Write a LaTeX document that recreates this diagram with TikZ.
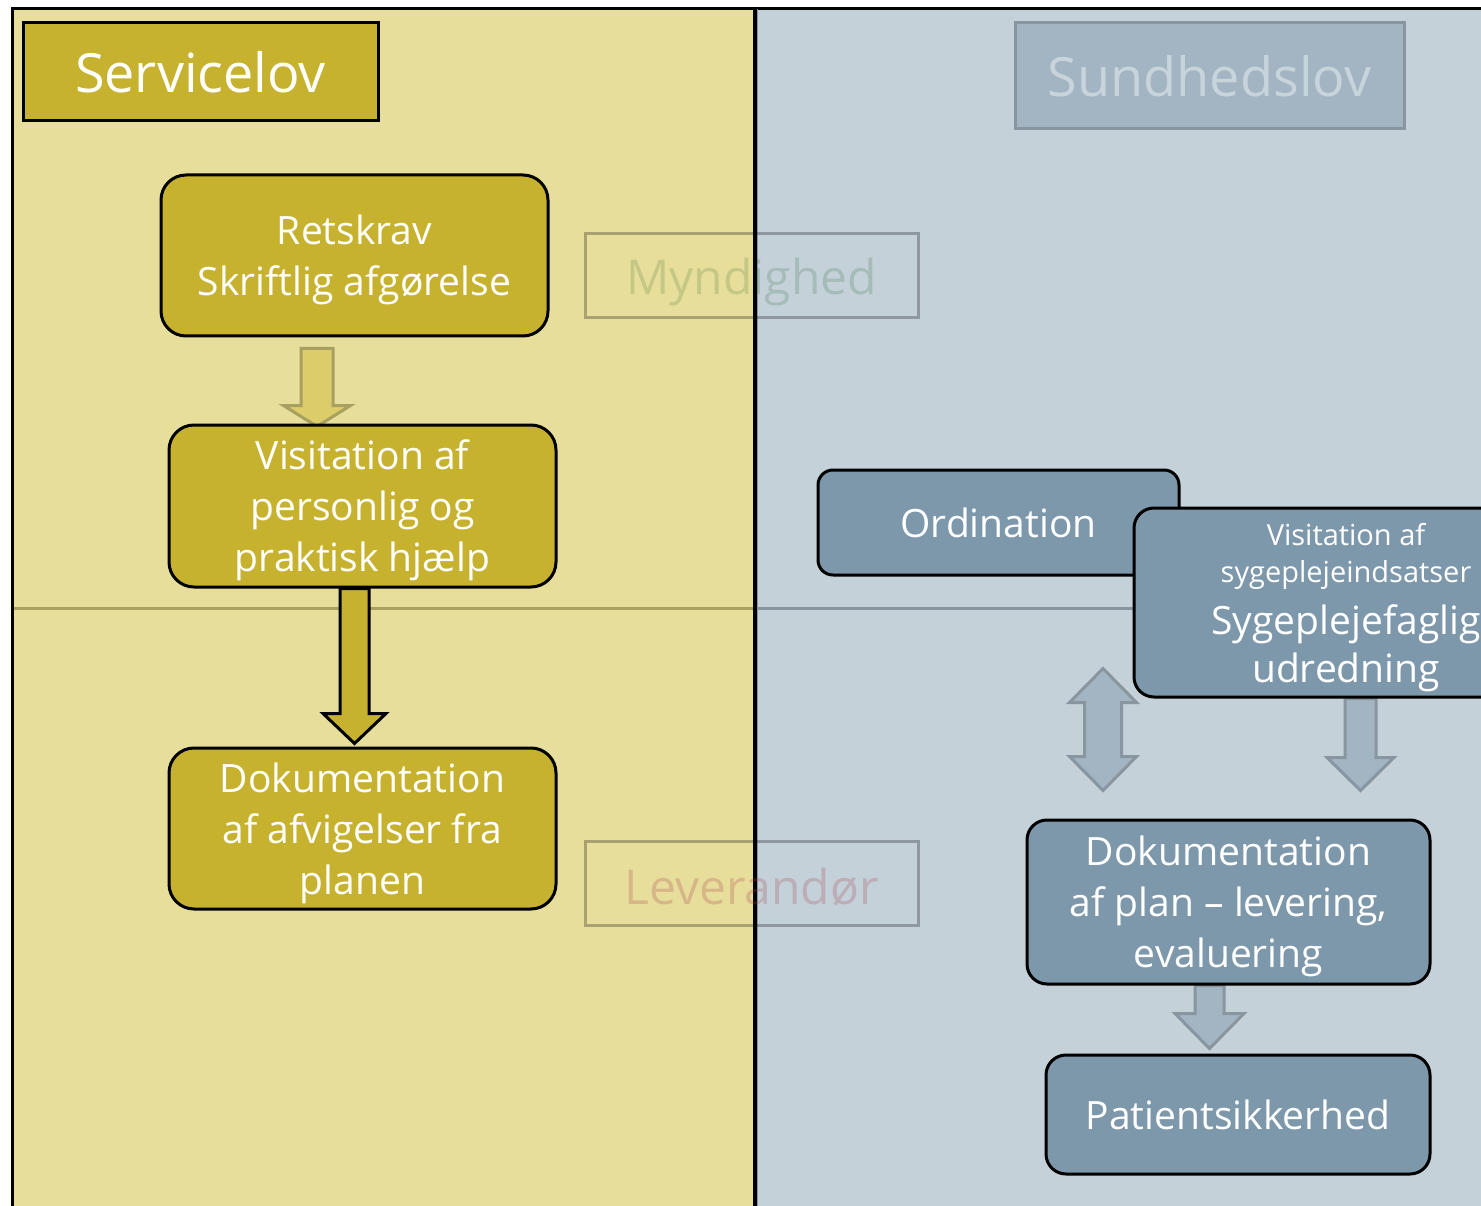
\documentclass[tikz,border=0pt]{standalone}
\usepackage{fontspec}
\setmainfont{Open Sans}
\usetikzlibrary{calc}

\pgfdeclarelayer{panels}
\pgfdeclarelayer{arrows}
\pgfsetlayers{panels,arrows,main}

\definecolor{servBg}{HTML}{E8DE9C}
\definecolor{sundBg}{HTML}{C4D1D9}
\definecolor{gold}{HTML}{C7B22F}
\definecolor{paleGold}{HTML}{DDCC6A}
\definecolor{goldLine}{HTML}{A8A060}
\definecolor{steel}{HTML}{7D97AB}
\definecolor{paleSteel}{HTML}{A3B5C2}
\definecolor{steelLine}{HTML}{8A969F}
\definecolor{sundText}{HTML}{C8D4DC}
\definecolor{myndText}{RGB}{0,69,0}
\definecolor{levText}{RGB}{168,70,80}

%% block arrow pointing down: style, from, to, shaft half, head half, head length
\newcommand\downArrow[6]{%
  \draw[#1] let \p1=(#2), \p2=(#3) in
    (\x1-#4pt,\y1) -- (\x1-#4pt,\y2+#6pt) -- (\x1-#5pt,\y2+#6pt) -- (\x1,\y2)
    -- (\x1+#5pt,\y2+#6pt) -- (\x1+#4pt,\y2+#6pt) -- (\x1+#4pt,\y1) -- cycle;}
%% block arrow pointing both ways
\newcommand\bothArrow[6]{%
  \draw[#1] let \p1=(#2), \p2=(#3) in
    (\x1,\y1) -- (\x1+#5pt,\y1-#6pt) -- (\x1+#4pt,\y1-#6pt) -- (\x1+#4pt,\y2+#6pt)
    -- (\x1+#5pt,\y2+#6pt) -- (\x1,\y2) -- (\x1-#5pt,\y2+#6pt) -- (\x1-#4pt,\y2+#6pt)
    -- (\x1-#4pt,\y1-#6pt) -- (\x1-#5pt,\y1-#6pt) -- cycle;}
\newcommand\smallText{\fontsize{29}{37}\selectfont}

\begin{document}
\begin{tikzpicture}
[x=1pt,y=-1pt,
  mainFont/.style={font=\fontsize{39}{51}\selectfont},
  boxDecorate/.style={draw=black,line width=3pt,text=white,align=center,inner sep=0pt,mainFont},
  multiLine/.style={text depth=-1pt},
  goldBox/.style={boxDecorate,multiLine,fill=gold,rounded corners=25pt},
  steelBox/.style={boxDecorate,fill=steel,rounded corners=20pt},
  titleBox/.style={line width=3pt,inner sep=0pt,font=\fontsize{54}{60}\selectfont},
  ghostBox/.style={draw=black,draw opacity=0.27,line width=3pt,inner sep=0pt,
    minimum width=333pt,minimum height=84pt,font=\fontsize{48}{54}\selectfont},
  goldArrow/.style={fill=gold,draw=black,line width=3pt},
  paleGoldArrow/.style={fill=paleGold,draw=goldLine,line width=3pt},
  paleSteelArrow/.style={fill=paleSteel,draw=steelLine,line width=3pt}]
\useasboundingbox (0,0) rectangle (1481,1206);

%% panels
\begin{pgfonlayer}{panels}
\fill[servBg] (12,9) rectangle (755,1220);
\fill[sundBg] (755,9) rectangle (1495,1220);
\draw[goldLine,line width=3pt] (12,608) -- (754,608);
\draw[steelLine,line width=3pt] (758,608) -- (1140,608);
\draw[line width=3pt] (1495,9) -- (12,9) -- (12,1220);
\draw[line width=4pt] (754.5,9) -- (754.5,1220);
\draw[steelLine,line width=1.5pt] (757.5,9) -- (757.5,1220);
\end{pgfonlayer}

%% titles
\node (servicelov) at (200.5,72) [titleBox,draw=black,fill=gold,text=white,
  minimum width=355pt,minimum height=98pt] {Servicelov};
\node (sundhedslov) at (1209.5,76) [titleBox,draw=steelLine,fill=paleSteel,text=sundText,
  minimum width=389pt,minimum height=106pt] {Sundhedslov};
\node (myndighed) at (751.5,276) [ghostBox,text=myndText,text opacity=0.15,
  execute at begin node={\rule{0pt}{48pt}}] {Myndighed};
\node (leverandor) at (751.5,883) [ghostBox,text=levText,text opacity=0.25,
  execute at begin node={\rule{0pt}{45pt}}] {Leverandør};

%% boxes
\node (retskrav) at (354.5,255.5) [goldBox,minimum width=387pt,minimum height=161pt]
  {Retskrav\\Skriftlig afgørelse};
\node (visitL) at (362.5,506) [goldBox,minimum width=387pt,minimum height=162pt]
  {Visitation af\\personlig og\\praktisk hjælp};
\node (dokL) at (362.5,828.5) [goldBox,minimum width=387pt,minimum height=161pt]
  {Dokumentation\\af afvigelser fra\\planen};
\node (ordination) at (998.5,522.5) [steelBox,rounded corners=15pt,
  minimum width=361pt,minimum height=105pt] {Ordination};
\node (visitR) at (1346,602.5) [steelBox,multiLine,font=\fontsize{39}{48}\selectfont,
  minimum width=424pt,minimum height=189pt]
  {\smallText Visitation af\\[-11pt]\smallText sygeplejeindsatser\\[4pt]Sygeplejefaglig\\udredning};
\node (dokR) at (1228.5,902) [steelBox,multiLine,minimum width=403pt,minimum height=164pt]
  {Dokumentation\\af plan – levering,\\evaluering};
\node (patient) at (1238,1114.5) [steelBox,minimum width=384pt,minimum height=119pt]
  {Patientsikkerhed};

%% arrows
\begin{pgfonlayer}{arrows}
\downArrow{paleGoldArrow}{$(retskrav.south)+(-37.5,11)$}{$(visitL.north)+(-45.5,3)$}{16}{33.5}{21}
\downArrow{goldArrow}{$(visitL.south)+(-8,0)$}{$(dokL.north)+(-8,-3)$}{14.5}{31.5}{30}
\bothArrow{paleSteelArrow}{$(ordination.south)+(104.5,92)$}{$(dokR.north)+(-125.5,-28)$}{18.5}{33.5}{34}
\downArrow{paleSteelArrow}{$(visitR.south)+(14.5,0)$}{$(dokR.north)+(132,-28)$}{15.5}{33.5}{33}
\downArrow{paleSteelArrow}{$(dokR.south)+(-19,0)$}{$(patient.north)+(-28.5,-5)$}{14.5}{34.5}{35}
\end{pgfonlayer}
\end{tikzpicture}
\end{document}
